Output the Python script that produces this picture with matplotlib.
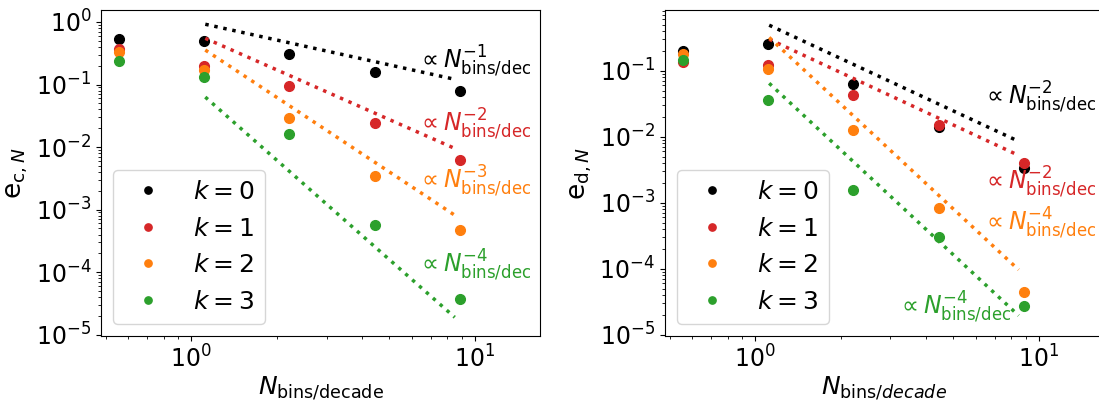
import numpy as np
import matplotlib
matplotlib.use("Agg")
import matplotlib.pyplot as plt

# bins per decade
n_bins = [0.556, 1.11, 2.22, 4.44, 8.89]
k_labels = ["$k=0$", "$k=1$", "$k=2$", "$k=3$"]
colors = ["black", "tab:red", "tab:orange", "tab:green"]

# continuous error e_c,N
ec_k0 = [0.528, 0.49, 0.31, 0.157, 0.0787]
ec_k1 = [0.374, 0.20, 0.0957, 0.0245, 0.00612]
ec_k2 = [0.327, 0.169, 0.0294, 0.00348, 4.65e-4]
ec_k3 = [0.238, 0.130, 0.016, 5.6e-4, 3.7e-5]

# discrete error e_d,N
ed_k0 = [0.199, 0.251, 0.062, 0.0139, 0.00333]
ed_k1 = [0.135, 0.123, 0.0434, 0.0152, 0.0040]
ed_k2 = [0.177, 0.106, 0.0128, 8.2e-4, 4.48e-5]
ed_k3 = [0.143, 0.0356, 0.00158, 3.0e-4, 2.7e-5]

# power-law guides: value at start of range and exponent
fit_range = [1.12, 8.5]
ec_fit_amp = [0.92, 0.548, 0.356, 0.063]
ec_fit_pow = [1, 2, 3, 4]
ed_fit_amp = [0.49, 0.30, 0.319, 0.0645]
ed_fit_pow = [2, 2, 4, 4]

# guide label positions
ec_lab_x = [6.25, 6.25, 6.25, 6.25]
ec_lab_y = [0.237, 0.0232, 0.00284, 1.29e-4]
ed_lab_x = [6.3, 6.3, 6.3, 3.17]
ed_lab_y = [0.0395, 0.00202, 4.9e-4, 2.6e-5]

plt.rcParams["font.size"] = 17

fig = plt.figure(figsize=(10.99, 4.03), dpi=100)
ax1 = fig.add_axes([0.0919, 0.166, 0.3995, 0.809])
ax2 = fig.add_axes([0.605, 0.166, 0.3995, 0.809])


def draw(ax, data, amps, pows, lab_x, lab_y, ylabel, xlabel, ylim):
    xs = np.geomspace(fit_range[0], fit_range[1], 50)
    for vals, c, lab in zip(data, colors, k_labels):
        ax.plot(n_bins, vals, "o", color=c, ms=7, label=lab)
    for a, p, c, tx, ty in zip(amps, pows, colors, lab_x, lab_y):
        ax.plot(xs, a * (xs / fit_range[0]) ** (-p), ":", color=c, lw=2.5)
        ax.text(tx, ty, r"$\propto N_{\mathrm{bins/dec}}^{-%d}$" % p,
                color=c, fontsize=17, ha="left", va="center")
    ax.set_xscale("log")
    ax.set_yscale("log")
    ax.set_xlim(0.48, 17)
    ax.set_ylim(*ylim)
    ax.tick_params(labelsize=17)
    ax.set_ylabel(ylabel, fontsize=19)
    ax.set_xlabel(xlabel, fontsize=18, labelpad=1)
    ax.legend(loc="lower left", fontsize=18, markerscale=0.75)


draw(ax1, [ec_k0, ec_k1, ec_k2, ec_k3], ec_fit_amp, ec_fit_pow, ec_lab_x, ec_lab_y,
     r"$\mathrm{e}_{\mathrm{c},N}$", r"$N_{\mathrm{bins/decade}}$", (9.5e-6, 1.55))
draw(ax2, [ed_k0, ed_k1, ed_k2, ed_k3], ed_fit_amp, ed_fit_pow, ed_lab_x, ed_lab_y,
     r"$\mathrm{e}_{\mathrm{d},N}$", r"$N_{\mathrm{bins}/decade}$", (9.5e-6, 0.83))

fig.savefig("out.png", dpi=100)
